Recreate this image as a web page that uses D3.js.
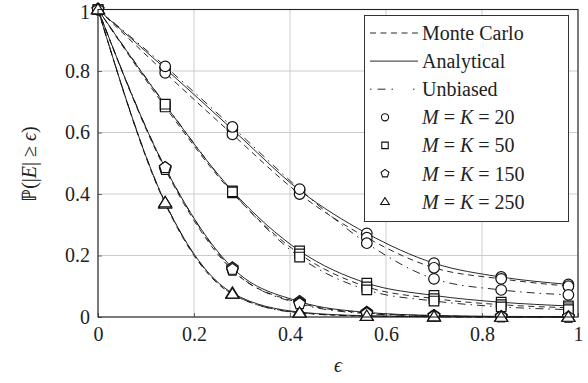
<!DOCTYPE html>
<html><head><meta charset="utf-8">
<script src="https://cdn.jsdelivr.net/npm/d3@7"></script>
<style>body{margin:0;background:#fff}svg{display:block}</style>
</head><body>
<svg id="c" width="588" height="383"></svg>
<script>
const eps = [0, 0.14, 0.28, 0.42, 0.56, 0.70, 0.84, 0.98];
const xTicks = [0, 0.2, 0.4, 0.6, 0.8, 1];
const yTicks = [0, 0.2, 0.4, 0.6, 0.8, 1];
const configs = ["20", "50", "150", "250"];
const markerTypes = ["circle", "square", "pentagon", "triangle"];
// Analytical (solid)
const analytical20  = [1, 0.808, 0.610, 0.412, 0.272, 0.175, 0.130, 0.106];
const analytical50  = [1, 0.690, 0.410, 0.215, 0.110, 0.070, 0.048, 0.036];
const analytical150 = [1, 0.485, 0.160, 0.050, 0.015, 0.005, 0.002, 0.001];
const analytical250 = [1, 0.372, 0.078, 0.016, 0.004, 0.001, 0.000, 0.000];
// Monte Carlo (dashed)
const monteCarlo20  = [1, 0.794, 0.594, 0.400, 0.258, 0.160, 0.124, 0.100];
const monteCarlo50  = [1, 0.683, 0.404, 0.205, 0.098, 0.060, 0.040, 0.030];
const monteCarlo150 = [1, 0.480, 0.152, 0.046, 0.013, 0.004, 0.001, 0.000];
const monteCarlo250 = [1, 0.368, 0.074, 0.014, 0.003, 0.001, 0.000, 0.000];
// Unbiased (dash-dot)
const unbiased20  = [1, 0.815, 0.618, 0.416, 0.240, 0.124, 0.088, 0.072];
const unbiased50  = [1, 0.692, 0.407, 0.195, 0.088, 0.052, 0.033, 0.024];
const unbiased150 = [1, 0.486, 0.155, 0.043, 0.011, 0.003, 0.001, 0.000];
const unbiased250 = [1, 0.372, 0.075, 0.013, 0.003, 0.001, 0.000, 0.000];

const MC_DASH = "6,4.5";
const UB_DASH = "8,5,1.5,5";
const seriesList = [
  {name:"Analytical", dash:null, vals:[analytical20, analytical50, analytical150, analytical250]},
  {name:"Monte Carlo", dash:MC_DASH, vals:[monteCarlo20, monteCarlo50, monteCarlo150, monteCarlo250]},
  {name:"Unbiased", dash:UB_DASH, vals:[unbiased20, unbiased50, unbiased150, unbiased250]}
];

const FONT = "Liberation Serif";
const FS = 20;
const svg = d3.select("#c");
const L = 98, R = 578, T = 9.5, B = 317;
const x = d3.scaleLinear().domain([0,1]).range([L,R]);
const y = d3.scaleLinear().domain([0,1]).range([B,T]);

// grid
const g = svg.append("g");
g.selectAll(".gx").data(xTicks).join("line").attr("x1",d=>x(d)).attr("x2",d=>x(d)).attr("y1",T).attr("y2",B).attr("stroke","#cccccc").attr("stroke-width",1);
g.selectAll(".gy").data(yTicks).join("line").attr("y1",d=>y(d)).attr("y2",d=>y(d)).attr("x1",L).attr("x2",R).attr("stroke","#cccccc").attr("stroke-width",1);

// axes (ticks inward)
const xAxis = d3.axisBottom(x).tickValues(xTicks).tickSize(-4).tickPadding(9).tickFormat(d3.format("~g"));
const yAxis = d3.axisLeft(y).tickValues(yTicks).tickSize(-4).tickPadding(8).tickFormat(d3.format("~g"));
const gx = svg.append("g").attr("transform",`translate(0,${B})`).call(xAxis);
const gy = svg.append("g").attr("transform",`translate(${L},0)`).call(yAxis);
[gx,gy].forEach(a=>{a.attr("font-family",FONT).attr("font-size",FS);a.select(".domain").remove();a.selectAll("line").attr("stroke","#666");a.selectAll("text").attr("fill","#222").attr("font-family",FONT);});
gx.selectAll("text").attr("dy","0.75em");
gy.selectAll("text").filter(d=>d===1).attr("dy","0.45em");

// lines
const line = d3.line().x((d,i)=>x(eps[i])).y(d=>y(d)).curve(d3.curveMonotoneX);
const plot = svg.append("g");
seriesList.forEach(s=>{
  s.vals.forEach(v=>{
    plot.append("path").attr("d",line(v)).attr("fill","none").attr("stroke","#111").attr("stroke-width",0.9)
      .attr("stroke-dasharray",s.dash);
  });
});

function symbolPath(type, size){
  const r = size;
  if(type==="circle") return d3.symbol(d3.symbolCircle, Math.PI*r*r)();
  if(type==="square") return d3.symbol(d3.symbolSquare, (1.8*r)*(1.8*r))();
  if(type==="triangle"){const h=r*1.15; return `M0,${-h}L${h*1.05},${h*0.7}L${-h*1.05},${h*0.7}Z`;}
  if(type==="pentagon"){const pts=d3.range(5).map(k=>{const a=-Math.PI/2+k*2*Math.PI/5;return [r*1.15*Math.cos(a),r*1.15*Math.sin(a)];});return "M"+pts.map(p=>p.join(",")).join("L")+"Z";}
}
// markers
seriesList.forEach(s=>{
  s.vals.forEach((v,ci)=>{
    plot.selectAll(null).data(v).join("path")
      .attr("transform",(d,i)=>`translate(${x(eps[i])},${y(d)})`)
      .attr("d",symbolPath(markerTypes[ci],5.3))
      .attr("fill","#fff").attr("stroke","#111").attr("stroke-width",1.2);
  });
});

// frame
svg.append("rect").attr("x",L).attr("y",T).attr("width",R-L).attr("height",B-T).attr("fill","none").attr("stroke","#222").attr("stroke-width",1.1);

// legend
const lg = svg.append("g");
lg.append("rect").attr("x",364.5).attr("y",15.5).attr("width",204).attr("height",206).attr("fill","#fff").attr("stroke","#333").attr("stroke-width",1);
const rowY = d3.range(7).map(i=>33+i*28.1);
const lineItems = [{label:"Monte Carlo",dash:MC_DASH},{label:"Analytical",dash:null},{label:"Unbiased",dash:"1.5,6,8,6,1.5,20"}];
lineItems.forEach((it,i)=>{
  lg.append("line").attr("x1",370).attr("x2",418).attr("y1",rowY[i]).attr("y2",rowY[i]).attr("stroke","#111").attr("stroke-width",0.9).attr("stroke-dasharray",it.dash);
  lg.append("text").attr("x",422).attr("y",rowY[i]).attr("dy","0.35em").attr("font-family",FONT).attr("font-size",FS).attr("fill","#222").text(it.label);
});
configs.forEach((c,i)=>{
  const yy = rowY[i+3];
  lg.append("path").attr("transform",`translate(385,${yy})`).attr("d",symbolPath(markerTypes[i],3.6)).attr("fill","#fff").attr("stroke","#111").attr("stroke-width",1.1);
  const t = lg.append("text").attr("x",422).attr("y",yy).attr("dy","0.35em").attr("font-family",FONT).attr("font-size",FS).attr("fill","#222");
  t.append("tspan").attr("font-style","italic").text("M");
  t.append("tspan").text(" = ");
  t.append("tspan").attr("font-style","italic").text("K");
  t.append("tspan").text(" = " + c);
});

// axis labels
svg.append("text").attr("x",338).attr("y",372).attr("text-anchor","middle").attr("font-family",FONT).attr("font-size",FS).attr("font-style","italic").attr("fill","#222").text("ϵ");
const yl = svg.append("text").attr("transform","translate(36,164) rotate(-90)").attr("text-anchor","middle").attr("font-family",FONT).attr("font-size",FS).attr("fill","#222");
yl.append("tspan").text("ℙ(|");
yl.append("tspan").attr("font-style","italic").text("E");
yl.append("tspan").text("| ≥ ");
yl.append("tspan").attr("font-style","italic").text("ϵ");
yl.append("tspan").text(")");
</script>
</body></html>
